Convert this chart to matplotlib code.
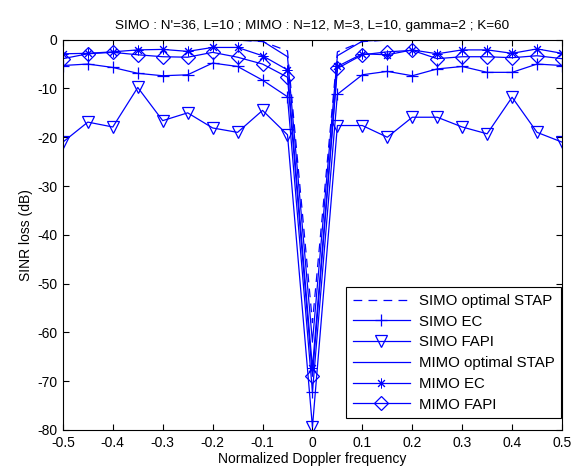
import matplotlib
matplotlib.use("Agg")
import matplotlib.pyplot as plt
import numpy as np

plt.rcParams["font.family"] = ["Liberation Sans", "DejaVu Sans"]
plt.rcParams["font.size"] = 10
plt.rcParams["axes.unicode_minus"] = False

# ── Data ──────────────────────────────────────────────────────────────────────
doppler = np.round(np.arange(-0.5, 0.5001, 0.05), 2)

simo_opt = [-0.1, -0.1, -0.1, -0.1, -0.1, -0.1, -0.1, -0.1, -0.4, -2.3, -58.0,
            -2.5, -0.4, -0.1, -0.1, -0.1, -0.1, -0.1, -0.1, -0.1, -0.1]
simo_ec = [-5.3, -5.0, -5.7, -6.9, -7.4, -7.2, -4.8, -5.5, -8.3, -11.7, -72.2,
           -11.2, -7.2, -6.5, -7.4, -6.0, -5.5, -6.7, -6.7, -5.0, -5.3]
simo_fapi = [-21.0, -16.9, -17.9, -9.8, -16.6, -15.0, -18.1, -19.0, -14.5, -19.5, -79.4,
             -17.6, -17.6, -20.0, -15.9, -15.9, -17.9, -19.3, -11.8, -19.0, -21.0]
mimo_opt = [-0.05, -0.05, -0.05, -0.05, -0.05, -0.05, -0.05, -0.05, -0.3, -3.5, -62.0,
            -3.3, -0.3, -0.05, -0.05, -0.05, -0.05, -0.05, -0.05, -0.05, -0.05]
mimo_ec = [-2.9, -2.8, -2.5, -2.1, -2.0, -2.4, -1.6, -1.6, -3.3, -6.2, -67.3,
           -5.5, -2.9, -3.1, -2.1, -2.9, -2.1, -2.1, -2.8, -1.9, -2.8]
mimo_fapi = [-3.9, -2.9, -2.6, -3.1, -3.5, -3.6, -2.6, -3.6, -5.0, -7.7, -69.0,
             -5.9, -3.1, -2.5, -2.2, -3.9, -3.5, -3.5, -3.7, -3.3, -3.9]

BLUE = "#0000ff"

fig = plt.figure(figsize=(5.77, 4.72), dpi=100)
ax = fig.add_axes([0.109, 0.089, 0.865, 0.827])

ax.plot(doppler, simo_opt, color=BLUE, lw=0.9, ls=(0, (7, 5)),
        label="SIMO optimal STAP")
ax.plot(doppler, simo_ec, "-", color=BLUE, lw=0.9, marker="+", ms=9,
        mew=0.9, label="SIMO EC")
ax.plot(doppler, simo_fapi, "-", color=BLUE, lw=0.9, marker="v", ms=8.5,
        mfc="none", mew=0.9, label="SIMO FAPI")
ax.plot(doppler, mimo_opt, "-", color=BLUE, lw=0.9, label="MIMO optimal STAP")
ax.plot(doppler, mimo_ec, "-", color=BLUE, lw=0.9, marker=(8, 2, 0), ms=7,
        mew=0.7, label="MIMO EC")
ax.plot(doppler, mimo_fapi, "-", color=BLUE, lw=0.9, marker="D", ms=7,
        mfc="none", mew=0.9, label="MIMO FAPI")

ax.set_xlim(-0.5, 0.5)
ax.set_ylim(-80, 0)
ax.set_xticks(np.round(np.arange(-0.5, 0.501, 0.1), 1))
ax.set_xticklabels(["-0.5", "-0.4", "-0.3", "-0.2", "-0.1", "0",
                    "0.1", "0.2", "0.3", "0.4", "0.5"])
ax.set_yticks(np.arange(-80, 1, 10))
ax.tick_params(direction="in", top=True, right=True, length=4, width=0.8,
               labelsize=10, pad=4)
for spine in ax.spines.values():
    spine.set_linewidth(0.8)

ax.set_title("SIMO : N'=36, L=10 ; MIMO : N=12, M=3, L=10, gamma=2 ; K=60",
             fontsize=9.7, pad=8)
ax.set_xlabel("Normalized Doppler frequency", fontsize=10, labelpad=2)
ax.set_ylabel("SINR loss (dB)", fontsize=10, labelpad=3)

leg = ax.legend(loc="lower right", bbox_to_anchor=(0.999, 0.03), fontsize=10.8,
                handlelength=3.8, handletextpad=0.6, labelspacing=0.45,
                borderpad=0.45, borderaxespad=0.0,
                fancybox=False, framealpha=1, edgecolor="black")
leg.get_frame().set_linewidth(0.8)

plt.savefig("out.png", dpi=100)
plt.close()
